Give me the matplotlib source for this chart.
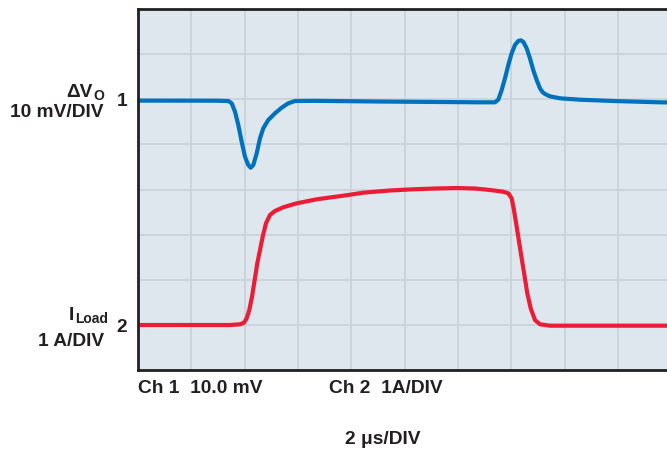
import matplotlib
matplotlib.use("Agg")
import matplotlib.pyplot as plt

# Scope traces, in screen divisions (x: 2 us/div, y: 8 vertical divisions)
ch1_x = [0.0, 1.444, 1.693, 1.757, 1.819, 1.881, 1.944, 2.006, 2.068, 2.113,
         2.162, 2.226, 2.288, 2.349, 2.443, 2.569, 2.694, 2.818, 2.944, 3.3,
         4.5, 6.413, 6.694, 6.756, 6.820, 6.882, 6.944, 7.007, 7.069, 7.131,
         7.176, 7.225, 7.288, 7.350, 7.412, 7.476, 7.538, 7.585, 7.632, 7.725,
         7.913, 8.288, 8.912, 9.788, 9.925]
ch1_y = [5.97, 5.968, 5.961, 5.910, 5.724, 5.429, 5.059, 4.727, 4.543, 4.483,
         4.543, 4.802, 5.135, 5.356, 5.540, 5.689, 5.813, 5.910, 5.961, 5.965,
         5.95, 5.932, 5.932, 5.989, 6.205, 6.464, 6.759, 7.018, 7.202, 7.291,
         7.306, 7.275, 7.129, 6.908, 6.648, 6.426, 6.243, 6.160, 6.116, 6.065,
         6.021, 5.990, 5.961, 5.932, 5.93]

ch2_x = [0.0, 1.725, 1.913, 1.988, 2.038, 2.087, 2.138, 2.188, 2.237, 2.288,
         2.338, 2.400, 2.475, 2.569, 2.724, 2.976, 3.351, 3.943, 4.219, 4.725,
         5.156, 5.569, 5.981, 6.319, 6.600, 6.850, 6.944, 7.007, 7.050, 7.101,
         7.150, 7.200, 7.251, 7.300, 7.364, 7.444, 7.538, 7.725, 7.913, 9.925]
ch2_y = [0.997, 0.997, 1.013, 1.048, 1.146, 1.330, 1.624, 1.994, 2.365, 2.659,
         2.954, 3.251, 3.435, 3.524, 3.606, 3.694, 3.783, 3.878, 3.929, 3.978,
         4.004, 4.022, 4.033, 4.022, 3.989, 3.951, 3.916, 3.805, 3.546, 3.176,
         2.808, 2.438, 2.068, 1.700, 1.367, 1.108, 1.013, 0.982, 0.982, 0.982]

x_divs = list(range(1, 10))
y_divs = list(range(1, 8))

W, H = 667, 449
fig = plt.figure(figsize=(W / 100, H / 100), dpi=100)
fig.patch.set_facecolor("white")

ax = fig.add_axes([138 / W, 1 - 370 / H, (W - 138) / W, 361 / H])
ax.set_facecolor("#dfe7ee")
ax.set_xlim(0, 9.92)
ax.set_ylim(0, 8)
ax.set_xticks(x_divs)
ax.set_yticks(y_divs)
ax.tick_params(length=0, labelbottom=False, labelleft=False)
ax.grid(True, color="#c9d1d9", linewidth=1.3)
ax.set_axisbelow(True)
for side in ("top", "left", "bottom"):
    ax.spines[side].set_color("#231f20")
    ax.spines[side].set_linewidth(2.0)
ax.spines["right"].set_visible(False)

ax.plot(ch1_x, ch1_y, color="#0071bc", linewidth=3.0,
        solid_joinstyle="round", solid_capstyle="round")
ax.plot(ch2_x, ch2_y, color="#ed1c36", linewidth=3.0,
        solid_joinstyle="round", solid_capstyle="round")

txt = dict(color="#231f20", fontfamily="Liberation Sans", fontweight="bold")


def label(x, y, s, size=13.8, ha="left", **kw):
    fig.text(x / W, 1 - y / H, s, fontsize=size, ha=ha, va="baseline",
             **txt, **kw)


# Channel 1 annotation
label(93, 97, "ΔV", ha="right")
label(93, 99.5, "O", size=10)
label(104, 117, "10 mV/DIV", ha="right")
label(117, 106, "1")

# Channel 2 annotation
label(74, 320, "I", ha="right")
label(75, 323, "Load", size=10)
label(104, 346, "1 A/DIV", ha="right")
label(116, 332, "2")

# Scope settings below the screen
label(138, 393, "Ch 1  10.0 mV")
label(329, 393, "Ch 2  1A/DIV")
label(345, 444, "2 μs/DIV")

fig.savefig("out.png", dpi=100)
